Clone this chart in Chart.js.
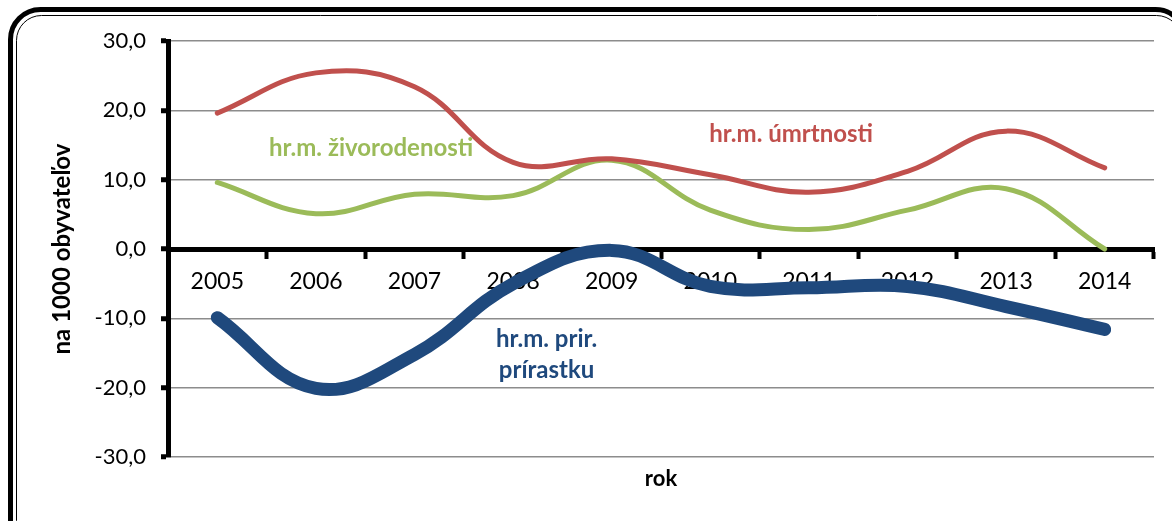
<!DOCTYPE html>
<html>
<head>
<meta charset="utf-8">
<script src="https://cdn.jsdelivr.net/npm/chart.js@4.4.1/dist/chart.umd.min.js"></script>
<style>
  html, body { margin: 0; padding: 0; background: #fff; }
  #wrap { width: 1172px; height: 521px; position: relative; }
</style>
</head>
<body>
<div id="wrap"><canvas id="chart"></canvas></div>
<script>
// roky a hodnoty (na 1000 obyvatelov)
var years = ['2005', '2006', '2007', '2008', '2009', '2010', '2011', '2012', '2013', '2014'];
var umrtnost = [19.6, 25.4, 23.4, 12.5, 13.0, 10.7, 8.2, 11.2, 17.0, 11.7];
var zivorodenost = [9.6, 5.1, 7.9, 7.7, 12.8, 5.6, 2.8, 5.6, 8.7, 0.0];
var prirastok = [-9.9, -20.1, -15.2, -5.0, -0.2, -5.4, -5.6, -5.4, -8.3, -11.6];

var seriesNames = ['hr.m. úmrtnosti', 'hr.m. živorodenosti', 'hr.m. prir. prírastku'];
var seriesColors = ['#C0504D', '#9BBB59', '#1F497D'];

// popisky priamo v grafe: text, index roka, hodnota
var inlineText = [['hr.m. úmrtnosti'], ['hr.m. živorodenosti'], ['hr.m. prir.', 'prírastku']];
var inlineX = [5.82, 1.56, 3.34];
var inlineY = [16.5, 14.6, -15.3];

var yTitle = 'na 1000 obyvateľov';
var xTitle = 'rok';

var FONT = 'Lato, "Open Sans", sans-serif';

var framePlugin = {
    id: 'frame',
    beforeDraw: function (chart) {
        var c = chart.ctx;
        c.save();
        c.strokeStyle = '#000';
        c.lineWidth = 5;
        c.beginPath();
        c.roundRect(10.5, 9.5, 1175, 540, 30);
        c.stroke();
        c.lineWidth = 1;
        c.beginPath();
        c.roundRect(16.5, 15.5, 1165, 530, 25);
        c.stroke();
        c.restore();
    }
};

var labelsPlugin = {
    id: 'inlineLabels',
    afterDatasetsDraw: function (chart) {
        var c = chart.ctx;
        var xs = chart.scales.x, ys = chart.scales.y;
        c.save();
        c.font = 'bold 24px ' + FONT;
        c.textAlign = 'center';
        c.textBaseline = 'middle';
        inlineText.forEach(function (lines, i) {
            var px = xs.getPixelForValue(inlineX[i]);
            var py = ys.getPixelForValue(inlineY[i]);
            c.fillStyle = seriesColors[i];
            lines.forEach(function (t, k) {
                c.fillText(t, px, py + (k - (lines.length - 1) / 2) * 31);
            });
        });
        // nazov osi x
        c.fillStyle = '#000';
        c.font = 'bold 22px ' + FONT;
        c.fillText(xTitle, (chart.chartArea.left + chart.chartArea.right) / 2, 479);
        c.restore();
    }
};

var ctx = document.getElementById('chart').getContext('2d');

var chart = new Chart(ctx, {
    type: 'line',
    data: {
        labels: years,
        datasets: [
            { label: seriesNames[0], data: umrtnost, borderColor: seriesColors[0], borderWidth: 5 },
            { label: seriesNames[1], data: zivorodenost, borderColor: seriesColors[1], borderWidth: 5 },
            { label: seriesNames[2], data: prirastok, borderColor: seriesColors[2], borderWidth: 13 }
        ]
    },
    options: {
        responsive: true,
        maintainAspectRatio: false,
        animation: false,
        devicePixelRatio: 1,
        layout: { padding: { left: 18, top: 41, right: 18, bottom: 64 } },
        elements: {
            point: { radius: 0, hoverRadius: 0 },
            line: { tension: 0.4, fill: false, borderCapStyle: 'round', borderJoinStyle: 'round' }
        },
        plugins: {
            legend: { display: false },
            tooltip: { enabled: false },
            title: { display: false }
        },
        scales: {
            x: {
                type: 'category',
                position: { y: 0 },
                offset: true,
                grid: {
                    display: true,
                    drawOnChartArea: false,
                    drawTicks: true,
                    offset: true,
                    tickLength: 7,
                    tickWidth: 4,
                    tickColor: '#000'
                },
                border: { display: true, color: '#000', width: 5 },
                ticks: {
                    color: '#000',
                    font: { family: FONT, size: 23 },
                    padding: 12,
                    maxRotation: 0,
                    autoSkip: false
                }
            },
            y: {
                min: -30,
                max: 30,
                afterFit: function (s) { s.width = 150; },
                grid: {
                    color: '#8c8c8c',
                    lineWidth: 1.5,
                    drawTicks: true,
                    tickLength: 7,
                    tickWidth: 5,
                    tickColor: '#000'
                },
                border: { display: true, color: '#000', width: 5 },
                ticks: {
                    stepSize: 10,
                    color: '#000',
                    font: { family: FONT, size: 22 },
                    padding: 15,
                    callback: function (v) { return v.toFixed(1).replace('.', ','); }
                },
                title: {
                    display: true,
                    text: yTitle,
                    color: '#000',
                    font: { family: FONT, size: 24, weight: 'bold' },
                    padding: { top: 30, bottom: 0 }
                }
            }
        }
    },
    plugins: [framePlugin, labelsPlugin]
});
</script>
</body>
</html>
